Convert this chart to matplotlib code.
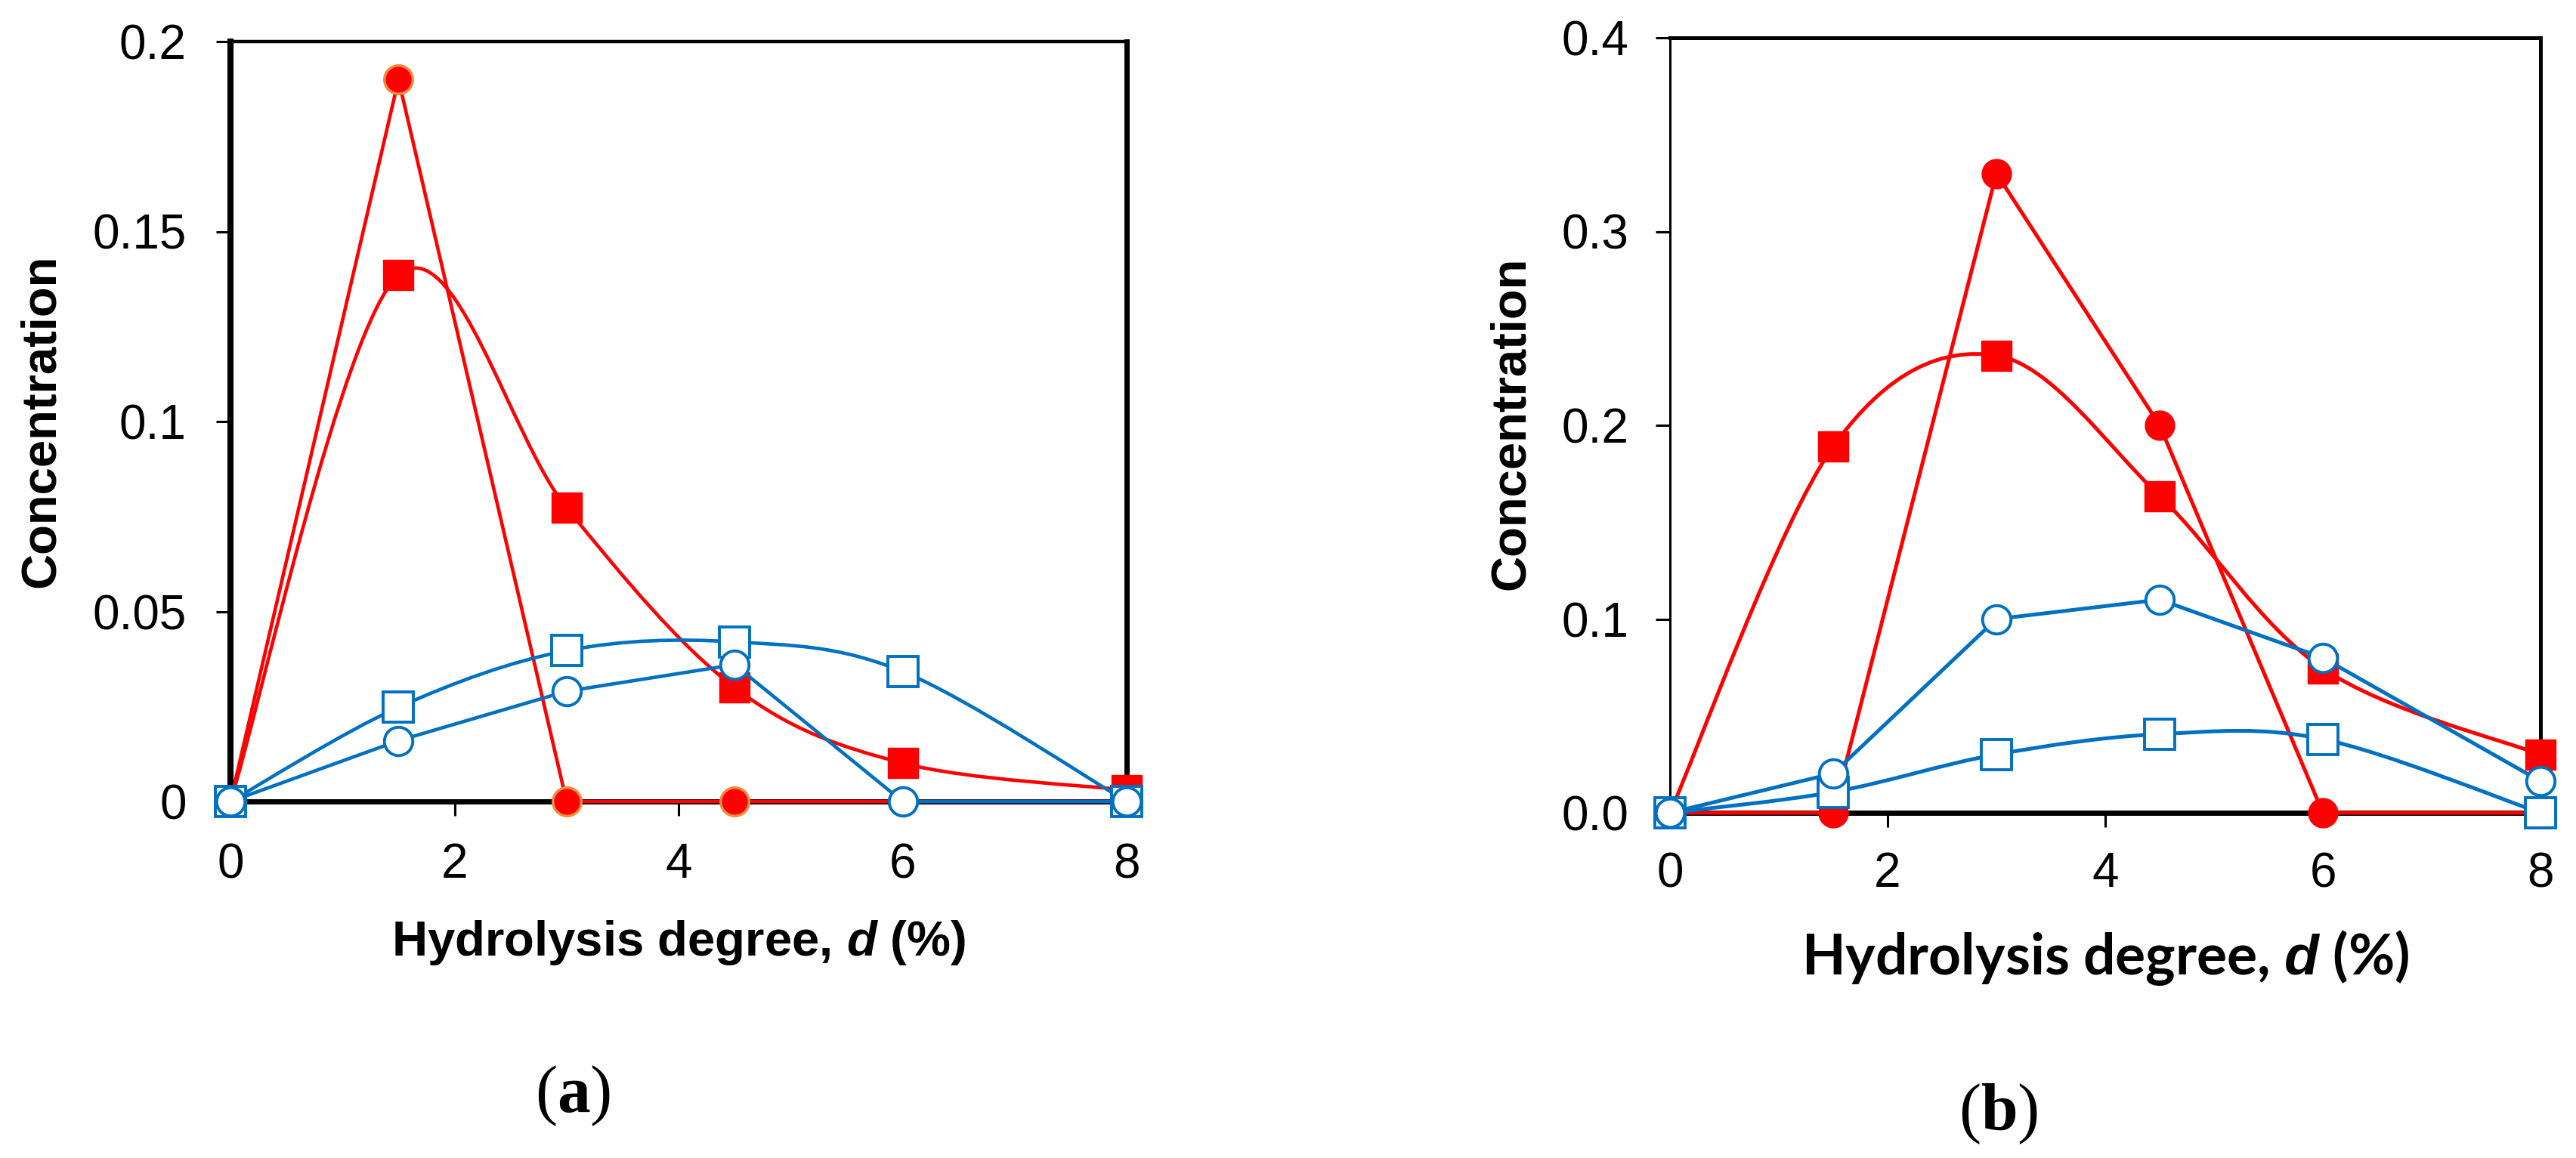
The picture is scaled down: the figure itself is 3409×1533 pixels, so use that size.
import numpy as np
import matplotlib
matplotlib.use('Agg')
import matplotlib.pyplot as plt
from matplotlib.path import Path
from matplotlib.patches import PathPatch

plt.rcParams['font.family'] = ['Liberation Sans', 'DejaVu Sans']
plt.rcParams['mathtext.fontset'] = 'custom'
plt.rcParams['mathtext.it'] = 'Liberation Sans:italic:bold'
plt.rcParams['mathtext.bf'] = 'Liberation Serif:bold'
plt.rcParams['mathtext.rm'] = 'Liberation Serif'

RED = '#FF0000'
BLUE = '#0070C0'
ORANGE = '#F08A3C'

# hydrolysis degree d (%)
d = [0, 1.5, 3, 4.5, 6, 8]

# panel (a)
a_red_circ = [0, 0.190, 0, 0, 0, 0]
a_red_sq = [0, 0.1385, 0.0773, 0.030, 0.0101, 0.003]
a_blue_sq = [0, 0.0248, 0.0397, 0.042, 0.0342, 0]
a_blue_circ = [0, 0.016, 0.029, 0.036, 0, 0]

# panel (b)
b_red_circ = [0, 0, 0.330, 0.200, 0, 0]
b_red_sq = [0, 0.189, 0.236, 0.1635, 0.0745, 0.030]
b_blue_sq = [0, 0.0107, 0.0301, 0.0406, 0.038, 0]
b_blue_circ = [0, 0.0203, 0.100, 0.110, 0.080, 0.0163]

a_yticks = [0, 0.05, 0.1, 0.15, 0.2]
a_ylabels = ['0', '0.05', '0.1', '0.15', '0.2']
b_yticks = [0, 0.1, 0.2, 0.3, 0.4]
b_ylabels = ['0.0', '0.1', '0.2', '0.3', '0.4']
xticks = [0, 2, 4, 6, 8]


def smooth_line(ax, xs, ys, color, lw, z):
    # Excel-style smoothed line: Catmull-Rom segments as cubic Beziers
    pts = list(zip(xs, ys))
    n = len(pts)
    verts = [pts[0]]
    codes = [Path.MOVETO]
    for i in range(n - 1):
        p0 = pts[i - 1] if i > 0 else pts[i]
        p1 = pts[i]
        p2 = pts[i + 1]
        p3 = pts[i + 2] if i + 2 < n else pts[i + 1]
        c1 = (p1[0] + (p2[0] - p0[0]) / 6, p1[1] + (p2[1] - p0[1]) / 6)
        c2 = (p2[0] - (p3[0] - p1[0]) / 6, p2[1] - (p3[1] - p1[1]) / 6)
        verts += [c1, c2, p2]
        codes += [Path.CURVE4] * 3
    ax.add_patch(PathPatch(Path(verts, codes), fill=False, edgecolor=color,
                           lw=lw, zorder=z, capstyle='round', joinstyle='round'))


def style_axes(ax, yticks, ylabels, ymax, spw, ypad, xpad):
    ax.set_xlim(0, 8)
    ax.set_ylim(0, ymax)
    ax.set_xticks(xticks)
    ax.set_xticklabels([str(t) for t in xticks])
    ax.set_yticks(yticks)
    ax.set_yticklabels(ylabels)
    ax.tick_params(direction='out', length=14, width=2.2, labelsize=46,
                   top=False, right=False)
    ax.tick_params(axis='y', pad=ypad)
    ax.tick_params(axis='x', pad=xpad)
    for side, w in zip(['left', 'right', 'top', 'bottom'], spw):
        ax.spines[side].set_linewidth(w)
        ax.spines[side].set_color('black')


fig = plt.figure(figsize=(34.09, 15.33), dpi=100)
W, H = 3409, 1533

axA = fig.add_axes([305 / W, 1 - 1061 / H, 1186 / W, 1006 / H])
axB = fig.add_axes([2210 / W, 1 - 1076 / H, 1152 / W, 1026 / H])

# ---- panel (a)
lw = 3.3
axA.plot(d, a_red_circ, color=RED, lw=lw, zorder=3, marker='o', ms=27,
         mfc=RED, mec=ORANGE, mew=2.5, clip_on=False)
smooth_line(axA, d, a_red_sq, RED, lw, 4)
axA.plot(d, a_red_sq, ls='none', marker='s', ms=29, mfc=RED, mec=RED,
         mew=1, zorder=4, clip_on=False)
smooth_line(axA, d, a_blue_sq, BLUE, lw, 5)
axA.plot(d, a_blue_sq, ls='none', marker='s', ms=29, mfc='white', mec=BLUE,
         mew=2.8, zorder=5, clip_on=False)
axA.plot(d, a_blue_circ, color=BLUE, lw=lw, zorder=6, marker='o', ms=27,
         mfc='white', mec=BLUE, mew=2.8, clip_on=False)
style_axes(axA, a_yticks, a_ylabels, 0.2, [5.8, 5.0, 3.2, 5.0], 28, 25)

# ---- panel (b)
lw = 3.6
axB.plot(d, b_red_circ, color=RED, lw=lw, zorder=3, marker='o', ms=28,
         mfc=RED, mec=RED, mew=1, clip_on=False)
smooth_line(axB, d, b_red_sq, RED, lw, 4)
axB.plot(d, b_red_sq, ls='none', marker='s', ms=29, mfc=RED, mec=RED,
         mew=1, zorder=4, clip_on=False)
smooth_line(axB, d, b_blue_sq, BLUE, lw, 5)
axB.plot(d, b_blue_sq, ls='none', marker='s', ms=29, mfc='white', mec=BLUE,
         mew=2.8, zorder=5, clip_on=False)
axB.plot(d, b_blue_circ, color=BLUE, lw=lw, zorder=6, marker='o', ms=27,
         mfc='white', mec=BLUE, mew=2.8, clip_on=False)
style_axes(axB, b_yticks, b_ylabels, 0.4, [2.2, 3.6, 3.6, 5.0], 25, 23)

# ---- labels
fig.text(55 / W, 1 - 557 / H, 'Concentration', rotation=90, ha='center',
         va='center', fontsize=47, fontweight='bold')
fig.text(2000 / W, 1 - 560 / H, 'Concentration', rotation=90, ha='center',
         va='center', fontsize=47, fontweight='bold')
fig.text(898 / W, 1 - 1265 / H, r'Hydrolysis degree, $\mathit{d}$ (%)',
         ha='center', va='baseline', fontsize=47, fontweight='bold')
fig.text(2786 / W, 1 - 1290 / H, r'Hydrolysis degree, $\mathit{d}$ (%)',
         ha='center', va='baseline', fontsize=54, fontweight='bold',
         family=['Lato', 'DejaVu Sans'])
fig.text(758 / W, 1 - 1451 / H, r'($\mathbf{a}$)', ha='center', va='center',
         fontsize=63, family=['Liberation Serif', 'DejaVu Serif'])
fig.text(2645 / W, 1 - 1475 / H, r'($\mathbf{b}$)', ha='center', va='center',
         fontsize=63, family=['Liberation Serif', 'DejaVu Serif'])

fig.savefig('out.png', dpi=100, facecolor='white')
